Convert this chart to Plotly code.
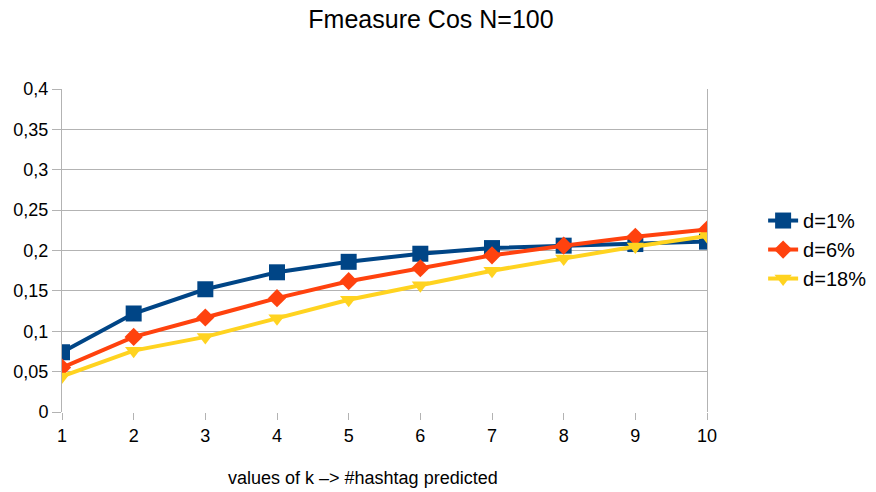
import plotly.graph_objects as go

k_values = [1, 2, 3, 4, 5, 6, 7, 8, 9, 10]
d1 = [0.074, 0.122, 0.152, 0.173, 0.186, 0.196, 0.203, 0.206, 0.208, 0.211]
d6 = [0.055, 0.093, 0.117, 0.141, 0.162, 0.178, 0.194, 0.206, 0.217, 0.226]
d18 = [0.044, 0.076, 0.093, 0.116, 0.139, 0.157, 0.175, 0.190, 0.205, 0.218]
series_names = ["d=1%", "d=6%", "d=18%"]
y_tickvals = [0, 0.05, 0.1, 0.15, 0.2, 0.25, 0.3, 0.35, 0.4]
y_ticktext = ["0", "0,05", "0,1", "0,15", "0,2", "0,25", "0,3", "0,35", "0,4"]
title_text = "Fmeasure Cos N=100"
xlabel_text = "values of k –> #hashtag predicted"

colors = ["#004586", "#ff420e", "#ffd320"]
symbols = ["square", "diamond", "triangle-down"]
sizes = [16, 14, 15]

fig = go.Figure()
for name, ys, c, s, sz in zip(series_names, [d1, d6, d18], colors, symbols, sizes):
    fig.add_trace(go.Scatter(
        x=k_values, y=ys, name=name, mode="lines+markers",
        line=dict(color=c, width=4),
        marker=dict(symbol=s, size=sz, color=c),
    ))

grid = "#b3b3b3"
fig.update_layout(
    width=876, height=492,
    margin=dict(l=62, r=169, t=89, b=80, autoexpand=False),
    paper_bgcolor="white", plot_bgcolor="white",
    font=dict(family="Liberation Sans, Arial, sans-serif", color="#000000", size=18),
    title=dict(text=title_text, x=0.492, xanchor="center", y=0.96, yanchor="middle",
               font=dict(size=25, color="#000000")),
    xaxis=dict(
        range=[1, 10], tickvals=k_values, showgrid=False, zeroline=False,
        showline=False, ticks="outside", ticklen=7, tickcolor=grid,
        tickfont=dict(size=18),
    ),
    yaxis=dict(
        range=[0, 0.4], tickvals=y_tickvals, ticktext=y_ticktext,
        showgrid=True, gridcolor=grid, gridwidth=1, zeroline=False,
        showline=True, mirror=True, linecolor=grid, linewidth=1,
        ticks="outside", ticklen=9, tickcolor=grid,
        tickfont=dict(size=18),
    ),
    legend=dict(x=1.087, xanchor="left", y=0.503, yanchor="middle",
                font=dict(size=20), itemsizing="trace", tracegroupgap=0,
                bgcolor="rgba(0,0,0,0)"),
    showlegend=True,
)
fig.add_annotation(text=xlabel_text, xref="paper", yref="paper",
                   x=0.466, y=-0.204, xanchor="center", yanchor="middle",
                   showarrow=False, font=dict(size=18))

fig.write_html("out.html")
